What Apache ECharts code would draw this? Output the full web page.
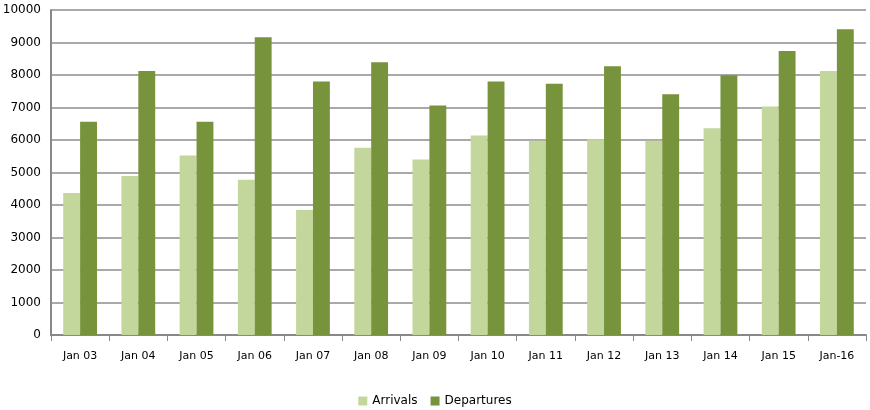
<!DOCTYPE html>
<html><head><meta charset="utf-8">
<script src="https://cdn.jsdelivr.net/npm/echarts@6/dist/echarts.min.js"></script>
<style>html,body{margin:0;padding:0;background:#fff}#c{width:870px;height:410px}</style>
</head><body><div id="c"></div>
<script>
var categories = ['Jan 03','Jan 04','Jan 05','Jan 06','Jan 07','Jan 08','Jan 09','Jan 10','Jan 11','Jan 12','Jan 13','Jan 14','Jan 15','Jan-16'];
var arrivals = [4370,4890,5520,4780,3850,5760,5400,6140,5980,6020,5980,6360,7030,8120];
var departures = [6560,8120,6560,9160,7800,8390,7060,7800,7730,8270,7410,7990,8740,9410];
var yTicks = {min:0, max:10000, interval:1000};

var chart = echarts.init(document.getElementById('c'));
var font = 'DejaVu Sans';
chart.setOption({
  animation:false,
  textStyle:{fontFamily:font},
  grid:{left:51, right:4, top:10, bottom:75, outerBoundsMode:'none', containLabel:false},
  legend:{bottom:3, left:'center', padding:0, itemWidth:9, itemHeight:9, itemGap:13, icon:'rect',
    textStyle:{fontFamily:font, fontSize:12, color:'#000'},
    data:['Arrivals','Departures']},
  xAxis:{type:'category', data:categories, boundaryGap:true,
    axisLine:{lineStyle:{color:'#888', width:2}},
    axisTick:{show:true, alignWithLabel:false, length:6, lineStyle:{color:'#888'}},
    axisLabel:{color:'#000', fontSize:11, margin:16, fontFamily:font}},
  yAxis:{type:'value', min:yTicks.min, max:yTicks.max, interval:yTicks.interval,
    axisLine:{show:true, lineStyle:{color:'#888', width:2}},
    axisTick:{show:false},
    splitLine:{lineStyle:{color:'#8c8c8c', width:1.5}},
    axisLabel:{color:'#000', fontSize:12, margin:10, fontFamily:font,
      formatter:function(v){return String(v);}}},
  series:[
    {name:'Arrivals', type:'bar', data:arrivals, barGap:'0%', barCategoryGap:'42%',
      itemStyle:{color:'#c3d69b'}},
    {name:'Departures', type:'bar', data:departures,
      itemStyle:{color:'#77933c'}}
  ]
});
</script></body></html>
